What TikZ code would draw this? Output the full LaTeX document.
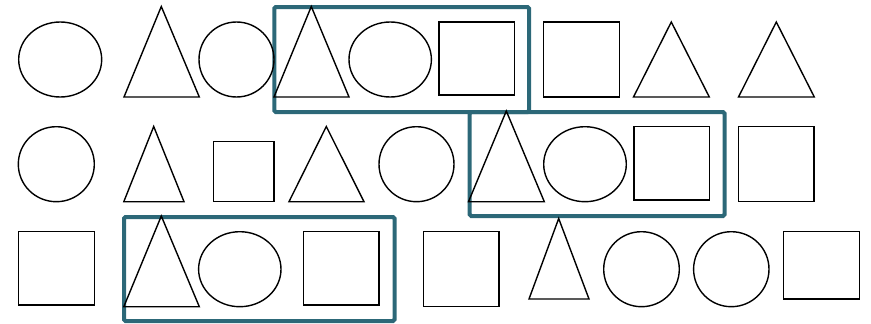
\documentclass[tikz,border=0pt]{standalone}
\definecolor{boxteal}{RGB}{44,104,120}
\tikzset{
  shp/.style={draw=black, line width=1.4pt, line join=miter},
  grp/.style={draw=boxteal, line width=4pt, rounded corners=1.5pt},
}
\begin{document}
\begin{tikzpicture}[x=1pt,y=-1pt]
\useasboundingbox (0,0) rectangle (871,324);
% group boxes
\draw[grp] (274.3,7) rectangle (529,112);
\draw[grp] (469.7,112) rectangle (724.5,216);
\draw[grp] (124,217) rectangle (394.5,321);
% row 1
\draw[shp] (60.2,59.5) ellipse [x radius=41.5, y radius=37.5];
\draw[shp] (124,97) -- (161.3,6.5) -- (199.3,97) -- cycle;
\draw[shp] (236.5,59.5) ellipse [x radius=37.5, y radius=37.5];
\draw[shp] (274,97) -- (311.3,6.5) -- (349,97) -- cycle;
\draw[shp] (390.2,59.5) ellipse [x radius=41.2, y radius=37.5];
\draw[shp] (439,22) rectangle (514.3,95);
\draw[shp] (543.5,22) rectangle (619.3,97);
\draw[shp] (633.5,97) -- (671.3,22) -- (709.3,97) -- cycle;
\draw[shp] (738.5,97) -- (776.3,22) -- (814.3,97) -- cycle;
% row 2
\draw[shp] (56.3,164.2) ellipse [x radius=38, y radius=37.5];
\draw[shp] (123.8,201.7) -- (153.7,126.5) -- (184,201.7) -- cycle;
\draw[shp] (213.5,141.7) rectangle (274,201.7);
\draw[shp] (289,201.7) -- (326.3,126.5) -- (364,201.7) -- cycle;
\draw[shp] (416.5,164.2) ellipse [x radius=37.5, y radius=37.5];
\draw[shp] (468.5,201.7) -- (506.3,111) -- (544.3,201.7) -- cycle;
\draw[shp] (585,164.2) ellipse [x radius=41.3, y radius=37.5];
\draw[shp] (633.8,126.7) rectangle (709.3,200);
\draw[shp] (738.7,126.7) rectangle (814,201.7);
% row 3
\draw[shp] (18.7,231.7) rectangle (94.3,305);
\draw[shp] (123.8,306.7) -- (161.3,216) -- (199.3,306.7) -- cycle;
\draw[shp] (239.8,269.2) ellipse [x radius=41.2, y radius=37.5];
\draw[shp] (303.7,231.7) rectangle (379,305);
\draw[shp] (423.7,231.7) rectangle (499,306.7);
\draw[shp] (529,299) -- (558.7,218.5) -- (589,299) -- cycle;
\draw[shp] (641.5,269.2) ellipse [x radius=37.8, y radius=37.5];
\draw[shp] (731.3,269.2) ellipse [x radius=37.7, y radius=37.5];
\draw[shp] (783.7,231.7) rectangle (859.3,299);
\end{tikzpicture}
\end{document}
